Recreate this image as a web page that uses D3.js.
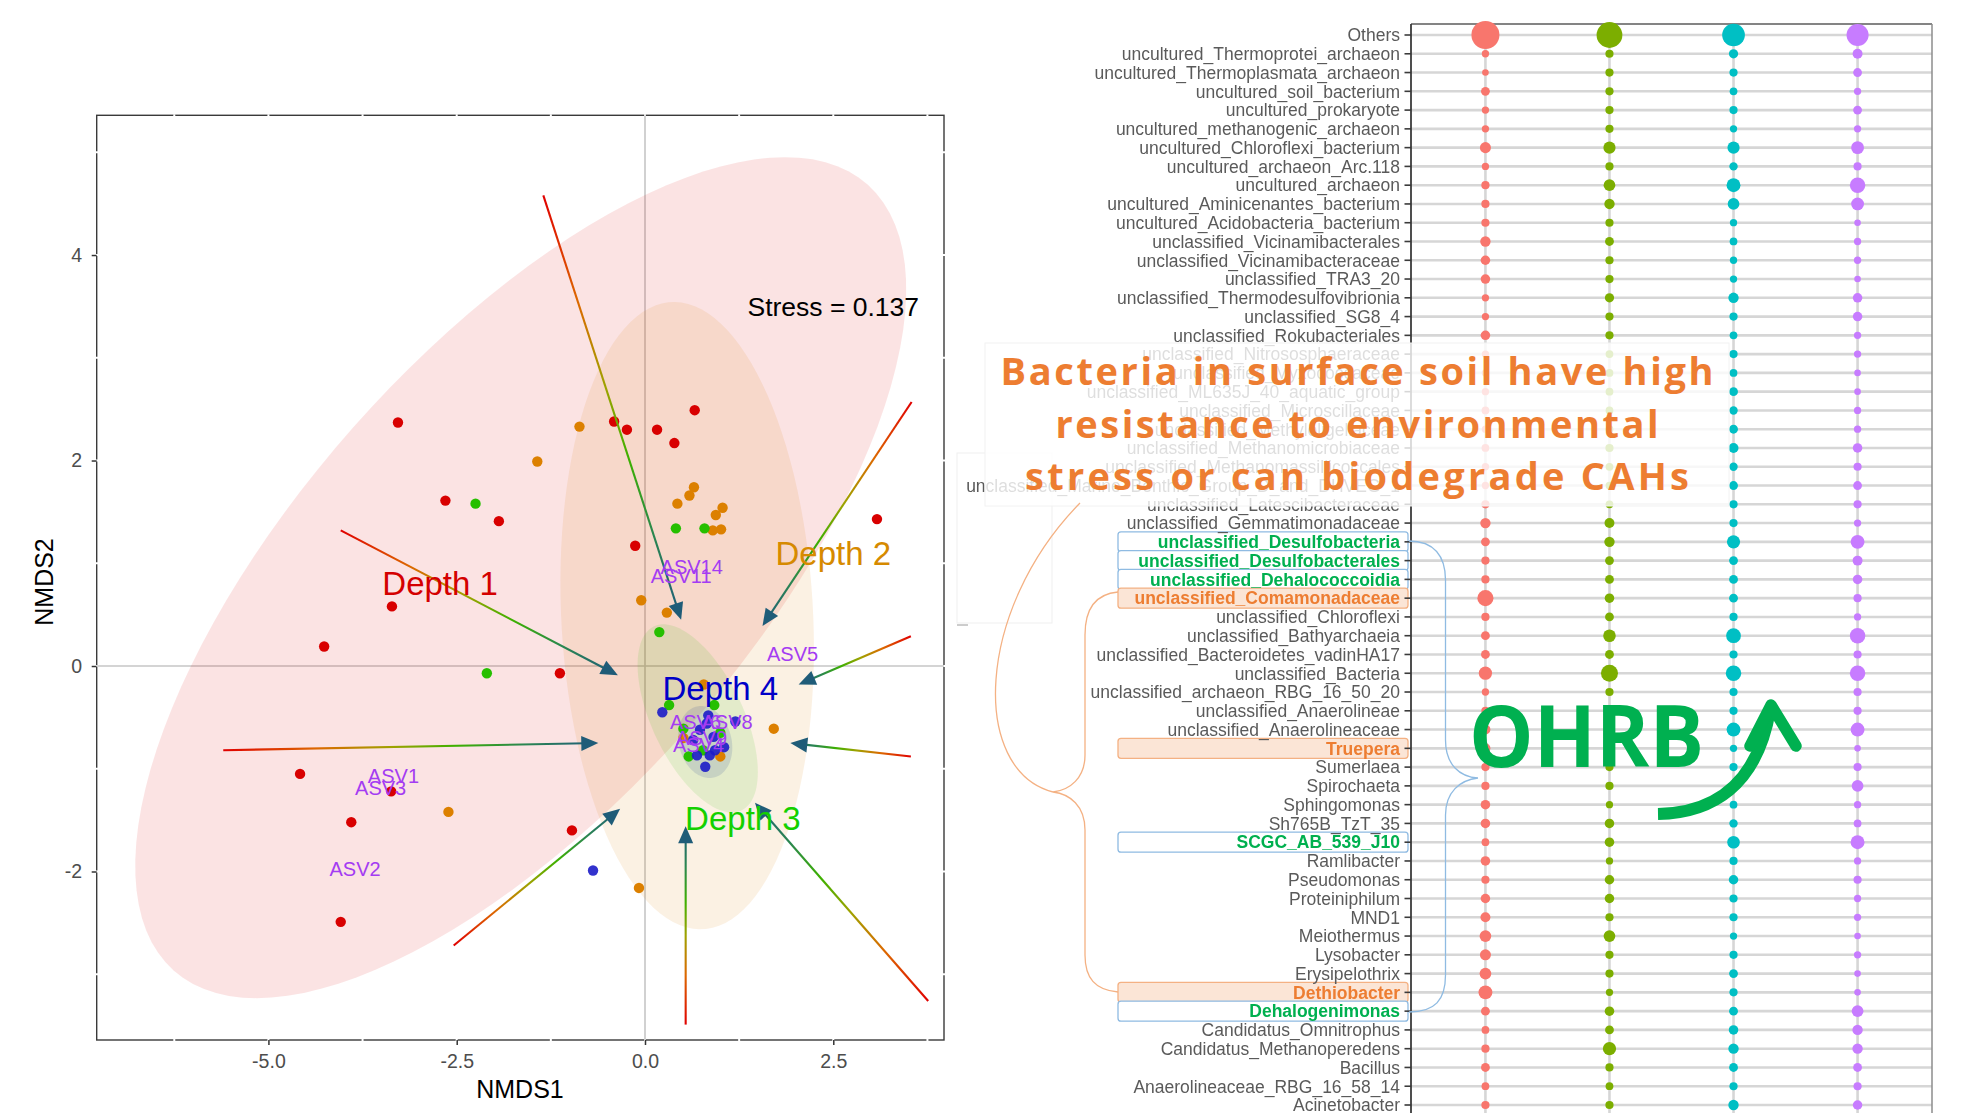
<!DOCTYPE html>
<html>
<head>
<meta charset="utf-8">
<script src="https://cdn.jsdelivr.net/npm/d3@7"></script>
<style>
  html, body { margin: 0; padding: 0; background: #fff; }
  svg { display: block; }
</style>
</head>
<body>
<svg id="fig" width="1974" height="1113"></svg>
<script>
// ---------------- NMDS ordination (left) ----------------
const depthGroups = ["Depth 1", "Depth 2", "Depth 3", "Depth 4"];
const depthPointColors = ["#d80000", "#dc8000", "#26bf00", "#1c1cc8"];
const depthLabelColors = ["#d40000", "#d68a00", "#14d000", "#0000c8"];

// sample scores (NMDS1, NMDS2) and the depth each sample belongs to (index into depthGroups)
const sampleNMDS1 = [
  -3.28, -2.65, -1.94, -0.41, -0.24, 0.16, 0.66, 0.39, 3.08, -0.13, -1.13, -0.97, -3.36, -4.26, -4.58, -3.37, -3.90, -4.04,
  -0.87, -1.43, 0.65, 0.59, 0.43, 1.03, 0.94, 0.90, 1.01, -0.05, 0.29, 0.78, 1.71, -0.08, -2.61, 0.51, 1.00,
  -2.25, 0.41, 0.79, 0.19, -2.10, 0.32, 0.92, 0.51, 1.00, 0.58, 0.77,
  0.23, 1.20, 0.69, 0.86, 0.80, 1.05, 0.84, 0.73, 0.91, 0.64, 0.82, 0.93, -0.69
];
const sampleNMDS2 = [
  2.37, 1.61, 1.41, 2.38, 2.30, 2.30, 2.49, 2.17, 1.43, 1.17, -0.07, -1.60, 0.58, 0.19, -1.05, -1.22, -1.52, -2.49,
  2.33, 1.99, 1.74, 1.66, 1.58, 1.54, 1.47, 1.32, 1.33, 0.64, 0.52, -0.18, -0.61, -2.16, -1.42, -0.70, -0.88,
  1.58, 1.34, 1.34, 0.33, -0.07, -0.38, -0.38, -0.61, -0.65, -0.88, -0.82,
  -0.45, -0.54, -0.87, -0.87, -0.98, -0.79, -0.48, -0.62, -0.69, -0.72, -0.56, -0.82, -1.99
];
const sampleDepth = [
  0, 0, 0, 0, 0, 0, 0, 0, 0, 0, 0, 0, 0, 0, 0, 0, 0, 0,
  1, 1, 1, 1, 1, 1, 1, 1, 1, 1, 1, 1, 1, 1, 1, 1, 1,
  2, 2, 2, 2, 2, 2, 2, 2, 2, 2, 2,
  3, 3, 3, 3, 3, 3, 3, 3, 3, 3, 3, 3, 3
];

// confidence ellipses per depth: centre, semi-axes and rotation (degrees), in NMDS units
const ellipseCx = [-1.65, 0.56, 0.70, 0.80];
const ellipseCy = [0.86, 0.49, -0.51, -0.74];
const ellipseA = [6.05, 3.06, 1.08, 0.382];
const ellipseB = [2.52, 1.67, 0.557, 0.325];
const ellipseAngle = [35.9, 94.7, 128.2, 139.5];
const ellipseFill = ["#d80000", "#dc8000", "#26bf00", "#3a4f9a"];
const ellipseOpacity = [0.11, 0.11, 0.11, 0.16];

// depth labels (centre x, baseline y) in NMDS units
const depthLabelX = [-2.72, 2.50, 1.30, 1.00];
const depthLabelY = [0.69, 0.98, -1.60, -0.33];

// species (ASV) labels
const asvNames = ["ASV14", "ASV11", "ASV5", "ASV1", "ASV3", "ASV2", "ASV6", "ASV8", "ASV9", "ASV4"];
const asvX = [0.62, 0.48, 1.96, -3.34, -3.51, -3.85, 0.67, 1.09, 0.75, 0.71];
const asvY = [0.90, 0.81, 0.05, -1.14, -1.26, -2.04, -0.61, -0.61, -0.77, -0.84];

// environmental gradient arrows (tail -> head) in NMDS units
const arrowX0 = [-1.35, -4.04, -5.60, -2.54, 0.54, 3.76, 3.53, 3.53, 3.54];
const arrowY0 = [4.58, 1.32, -0.82, -2.72, -3.49, -3.26, -0.88, 0.29, 2.57];
const arrowX1 = [0.48, -0.36, -0.62, -0.33, 0.54, 1.46, 1.93, 2.04, 1.56];
const arrowY1 = [0.45, -0.09, -0.75, -1.39, -1.56, -1.33, -0.75, -0.18, 0.39];

const stressText = "Stress = 0.137";
const stressX = 2.50, stressY = 3.41;

const xMajor = [-5, -2.5, 0, 2.5];
const yMajor = [-2, 0, 2, 4];
const xGridAll = [-6.25, -5, -3.75, -2.5, -1.25, 0, 1.25, 2.5, 3.75];
const yGridAll = [-3, -2, -1, 0, 1, 2, 3, 4, 5];

// ---------------- genus dot plot (right) ----------------
const genusNames = [
  "Others",
  "uncultured_Thermoprotei_archaeon",
  "uncultured_Thermoplasmata_archaeon",
  "uncultured_soil_bacterium",
  "uncultured_prokaryote",
  "uncultured_methanogenic_archaeon",
  "uncultured_Chloroflexi_bacterium",
  "uncultured_archaeon_Arc.118",
  "uncultured_archaeon",
  "uncultured_Aminicenantes_bacterium",
  "uncultured_Acidobacteria_bacterium",
  "unclassified_Vicinamibacterales",
  "unclassified_Vicinamibacteraceae",
  "unclassified_TRA3_20",
  "unclassified_Thermodesulfovibrionia",
  "unclassified_SG8_4",
  "unclassified_Rokubacteriales",
  "unclassified_Nitrososphaeraceae",
  "unclassified_Myxococcaceae",
  "unclassified_ML635J_40_aquatic_group",
  "unclassified_Microscillaceae",
  "unclassified_Methyloligellaceae",
  "unclassified_Methanomicrobiaceae",
  "unclassified_Methanomassiliicoccales",
  "unclassified_Marine_Benthic_Group_D_and_DHVEG_1",
  "unclassified_Latescibacteraceae",
  "unclassified_Gemmatimonadaceae",
  "unclassified_Desulfobacteria",
  "unclassified_Desulfobacterales",
  "unclassified_Dehalococcoidia",
  "unclassified_Comamonadaceae",
  "unclassified_Chloroflexi",
  "unclassified_Bathyarchaeia",
  "unclassified_Bacteroidetes_vadinHA17",
  "unclassified_Bacteria",
  "unclassified_archaeon_RBG_16_50_20",
  "unclassified_Anaerolineae",
  "unclassified_Anaerolineaceae",
  "Truepera",
  "Sumerlaea",
  "Spirochaeta",
  "Sphingomonas",
  "Sh765B_TzT_35",
  "SCGC_AB_539_J10",
  "Ramlibacter",
  "Pseudomonas",
  "Proteiniphilum",
  "MND1",
  "Meiothermus",
  "Lysobacter",
  "Erysipelothrix",
  "Dethiobacter",
  "Dehalogenimonas",
  "Candidatus_Omnitrophus",
  "Candidatus_Methanoperedens",
  "Bacillus",
  "Anaerolineaceae_RBG_16_58_14",
  "Acinetobacter"
];
const dotColumns = ["Depth 1", "Depth 2", "Depth 3", "Depth 4"];
const dotColors = ["#F8766D", "#7CAE00", "#00BFC4", "#C77CFF"];

// relative abundance (%) of each genus at each depth
const abundDepth1 = [30, 0.57, 0.36, 1.22, 0.57, 0.57, 2.59, 0.57, 0.91, 0.91,
  0.91, 2.12, 1.58, 1.58, 0.57, 0.57, 1.58, 0.57, 0.57, 0.57,
  0.73, 0.57, 0.73, 0.57, 0.57, 0.91, 2.12, 1.22, 0.91, 0.91,
  7.64, 0.91, 1.22, 1.22, 4.45, 0.57, 0.91, 1.84, 1.84, 0.91,
  0.91, 1.58, 1.58, 0.73, 1.58, 0.91, 1.58, 1.84, 3.09, 2.59,
  3.09, 5.11, 1.22, 0.73, 0.91, 1.22, 0.73, 0.91];
const abundDepth2 = [24.75, 0.91, 0.91, 0.91, 0.91, 0.91, 3.46, 0.91, 3.09, 2.12,
  0.91, 1.22, 0.91, 0.91, 1.45, 0.91, 0.91, 0.73, 0.73, 0.73,
  0.73, 0.73, 0.91, 0.73, 0.73, 0.73, 1.84, 2.12, 1.22, 1.22,
  1.58, 1.22, 3.84, 1.22, 8.79, 0.91, 0.91, 1.22, 1.22, 0.91,
  0.91, 0.57, 1.58, 1.58, 0.57, 1.58, 1.58, 0.91, 3.09, 0.91,
  0.91, 0.57, 1.58, 1.22, 4.45, 0.91, 0.73, 0.91];
const abundDepth3 = [18.24, 1.45, 0.91, 0.73, 0.91, 0.57, 3.46, 1.01, 5.11, 3.09,
  0.57, 0.73, 0.57, 0.57, 2.12, 0.91, 0.73, 0.91, 0.73, 1.22,
  1.01, 1.22, 1.84, 1.01, 1.22, 0.91, 0.91, 4.45, 1.22, 1.22,
  1.22, 0.91, 6.06, 0.91, 6.83, 0.91, 0.91, 5.11, 0.57, 0.91,
  1.22, 0.73, 1.01, 3.84, 0.91, 1.58, 0.91, 0.91, 0.57, 0.91,
  1.22, 0.91, 1.22, 1.58, 2.12, 1.22, 0.91, 2.12];
const abundDepth4 = [16.98, 1.84, 1.22, 0.57, 1.22, 0.57, 4.04, 0.91, 6.83, 4.04,
  0.36, 0.57, 0.57, 0.36, 1.58, 1.58, 0.57, 0.57, 0.36, 0.36,
  0.57, 0.57, 1.58, 0.91, 1.22, 0.91, 0.57, 5.11, 1.84, 1.58,
  0.91, 0.57, 6.83, 0.91, 6.83, 0.91, 0.91, 5.11, 0.36, 0.91,
  3.09, 0.57, 0.73, 5.11, 0.57, 0.91, 0.57, 0.57, 0.36, 0.57,
  0.36, 0.36, 3.09, 2.12, 2.12, 1.22, 0.91, 1.58];
const abundance = [abundDepth1, abundDepth2, abundDepth3, abundDepth4];

// highlighted genera
const ohrbGenera = ["unclassified_Desulfobacteria", "unclassified_Desulfobacterales",
  "unclassified_Dehalococcoidia", "SCGC_AB_539_J10", "Dehalogenimonas"];
const resistantGenera = ["unclassified_Comamonadaceae", "Truepera", "Dethiobacter"];

const noteLines = ["Bacteria in surface soil have high", "resistance to environmental", "stress or can biodegrade CAHs"];
const ohrbText = "OHRB";

// =====================================================================
const svg = d3.select("#fig");
const defs = svg.append("defs");
const sans = "'Liberation Sans', Arial, sans-serif";

// ---------- left panel ----------
const xL = d3.scaleLinear().domain([-7.28, 3.97]).range([96.7, 944]);
const yL = d3.scaleLinear().domain([-3.64, 5.36]).range([1040, 115.3]);
const [pL, pR] = xL.range();
const [pB, pT] = yL.range();

const gL = svg.append("g");

gL.append("rect")
  .attr("x", pL).attr("y", pT).attr("width", pR - pL).attr("height", pB - pT)
  .attr("fill", "#fff").attr("stroke", "#3a3a3a").attr("stroke-width", 1.4);

// white panel grid (shows only where it crosses the frame)
gL.selectAll("line.gx").data(xGridAll).join("line")
  .attr("x1", d => xL(d)).attr("x2", d => xL(d))
  .attr("y1", pT - 1).attr("y2", pB + 1)
  .attr("stroke", "#fff").attr("stroke-width", 2);
gL.selectAll("line.gy").data(yGridAll).join("line")
  .attr("y1", d => yL(d)).attr("y2", d => yL(d))
  .attr("x1", pL - 1).attr("x2", pR + 1)
  .attr("stroke", "#fff").attr("stroke-width", 2);

// axes
const axB = gL.append("g").attr("transform", `translate(0,${pB})`)
  .call(d3.axisBottom(xL).tickValues(xMajor).tickFormat(d => d.toFixed(1)).tickSize(5).tickPadding(9));
const axLft = gL.append("g").attr("transform", `translate(${pL},0)`)
  .call(d3.axisLeft(yL).tickValues(yMajor).tickFormat(d => String(d)).tickSize(5).tickPadding(9.5));
[axB, axLft].forEach(a => {
  a.select(".domain").remove();
  a.selectAll(".tick line").attr("stroke", "#333").attr("stroke-width", 1.5);
  a.selectAll(".tick text").attr("fill", "#4d4d4d").style("font-family", sans).style("font-size", "19.5px");
});

gL.append("text").attr("x", 520).attr("y", 1098).attr("text-anchor", "middle")
  .style("font-family", sans).style("font-size", "25px").attr("fill", "#000").text("NMDS1");
gL.append("text").attr("transform", "translate(53,582) rotate(-90)").attr("text-anchor", "middle")
  .style("font-family", sans).style("font-size", "25px").attr("fill", "#000").text("NMDS2");

// zero reference lines
gL.append("line").attr("x1", xL(0)).attr("x2", xL(0)).attr("y1", pT).attr("y2", pB)
  .attr("stroke", "#c6c6c6").attr("stroke-width", 1.6);
gL.append("line").attr("y1", yL(0)).attr("y2", yL(0)).attr("x1", pL).attr("x2", pR)
  .attr("stroke", "#c6c6c6").attr("stroke-width", 1.6);

// ellipses
function ellipsePoints(i) {
  const th = ellipseAngle[i] * Math.PI / 180, c = Math.cos(th), s = Math.sin(th);
  return d3.range(0, 360, 3).map(deg => {
    const t = deg * Math.PI / 180;
    const ex = ellipseA[i] * Math.cos(t), ey = ellipseB[i] * Math.sin(t);
    return [ellipseCx[i] + ex * c - ey * s, ellipseCy[i] + ex * s + ey * c];
  });
}
const ellLine = d3.line().x(d => xL(d[0])).y(d => yL(d[1])).curve(d3.curveLinearClosed);
gL.selectAll("path.ell").data(depthGroups).join("path")
  .attr("d", (d, i) => ellLine(ellipsePoints(i)))
  .attr("fill", (d, i) => ellipseFill[i])
  .attr("fill-opacity", (d, i) => ellipseOpacity[i])
  .attr("stroke", "none");

// sample points
gL.selectAll("circle.pt").data(sampleNMDS1).join("circle")
  .attr("cx", d => xL(d))
  .attr("cy", (d, i) => yL(sampleNMDS2[i]))
  .attr("r", 5.2)
  .attr("fill", (d, i) => depthPointColors[sampleDepth[i]])
  .attr("fill-opacity", (d, i) => sampleDepth[i] === 3 ? 0.9 : 1);

// gradient arrows
const arrows = arrowX0.map((d, i) => {
  const x0 = xL(d), y0 = yL(arrowY0[i]), x1 = xL(arrowX1[i]), y1 = yL(arrowY1[i]);
  const len = Math.hypot(x1 - x0, y1 - y0);
  const ux = (x1 - x0) / len, uy = (y1 - y0) / len;
  return { i, x0, y0, x1, y1, ux, uy };
});
const gradStops = [[0, "#e00000"], [0.25, "#dc6800"], [0.45, "#9fa200"], [0.62, "#3db000"], [0.8, "#2a8650"], [1, "#1f5b7c"]];
arrows.forEach(a => {
  const gr = defs.append("linearGradient").attr("id", "arrowGrad" + a.i)
    .attr("gradientUnits", "userSpaceOnUse")
    .attr("x1", a.x0).attr("y1", a.y0).attr("x2", a.x1).attr("y2", a.y1);
  gradStops.forEach(s => gr.append("stop").attr("offset", s[0]).attr("stop-color", s[1]));
});
const gArr = gL.append("g");
gArr.selectAll("line").data(arrows).join("line")
  .attr("x1", a => a.x0).attr("y1", a => a.y0)
  .attr("x2", a => a.x1 - a.ux * 12).attr("y2", a => a.y1 - a.uy * 12)
  .attr("stroke", a => `url(#arrowGrad${a.i})`).attr("stroke-width", 2.1);
gArr.selectAll("path").data(arrows).join("path")
  .attr("d", a => {
    const bx = a.x1 - a.ux * 17, by = a.y1 - a.uy * 17;
    const nx = -a.uy, ny = a.ux;
    return `M${a.x1},${a.y1}L${bx + nx * 7.5},${by + ny * 7.5}L${bx - nx * 7.5},${by - ny * 7.5}Z`;
  })
  .attr("fill", "#1f5c78");

// labels
gL.selectAll("text.asv").data(asvNames).join("text")
  .attr("x", (d, i) => xL(asvX[i])).attr("y", (d, i) => yL(asvY[i]))
  .attr("text-anchor", "middle").attr("fill", "#a43cf2")
  .style("font-family", sans).style("font-size", "20px").text(d => d);
gL.selectAll("text.depth").data(depthGroups).join("text")
  .attr("x", (d, i) => xL(depthLabelX[i])).attr("y", (d, i) => yL(depthLabelY[i]))
  .attr("text-anchor", "middle").attr("fill", (d, i) => depthLabelColors[i])
  .style("font-family", sans).style("font-size", "33px").text(d => d);
gL.append("text").attr("x", xL(stressX)).attr("y", yL(stressY)).attr("text-anchor", "middle")
  .style("font-family", sans).style("font-size", "26.5px").attr("fill", "#000").text(stressText);

// ---------- right panel ----------
const blur = defs.append("filter").attr("id", "soft").attr("x", "-5%").attr("y", "-5%").attr("width", "110%").attr("height", "110%");
blur.append("feGaussianBlur").attr("stdDeviation", 0.5);

const xR = d3.scalePoint().domain(dotColumns).range([1411, 1932]).padding(0.6);
const yR = d3.scalePoint().domain(genusNames).range([35, 1105]);
const rR = d3.scaleSqrt().domain([0, 30]).range([2, 14]);
const rTop = 24, rBottom = 1125;

const gR = svg.append("g").attr("filter", "url(#soft)");

gR.selectAll("line.hg").data(genusNames).join("line")
  .attr("x1", 1411).attr("x2", 1932).attr("y1", d => yR(d)).attr("y2", d => yR(d))
  .attr("stroke", "#d6d6d6").attr("stroke-width", 2.6);
gR.selectAll("line.vg").data(dotColumns).join("line")
  .attr("x1", d => xR(d)).attr("x2", d => xR(d)).attr("y1", rTop).attr("y2", rBottom)
  .attr("stroke", "#d6d6d6").attr("stroke-width", 2.6);
gR.append("line").attr("x1", 1411).attr("x2", 1932).attr("y1", rTop).attr("y2", rTop)
  .attr("stroke", "#5c5c5c").attr("stroke-width", 1.5);
gR.append("line").attr("x1", 1932).attr("x2", 1932).attr("y1", rTop).attr("y2", rBottom)
  .attr("stroke", "#8c8c8c").attr("stroke-width", 1.5);

// dots
dotColumns.forEach((col, c) => {
  gR.append("g").selectAll("circle").data(genusNames).join("circle")
    .attr("cx", xR(col)).attr("cy", d => yR(d))
    .attr("r", (d, i) => rR(abundance[c][i]))
    .attr("fill", dotColors[c]);
});

// label boxes for highlighted genera
const boxed = genusNames.filter(g => ohrbGenera.includes(g) || resistantGenera.includes(g));
gR.selectAll("rect.box").data(boxed).join("rect")
  .attr("x", 1118).attr("y", d => yR(d) - 10).attr("width", 290).attr("height", 20).attr("rx", 3)
  .attr("fill", d => ohrbGenera.includes(d) ? "#ffffff" : "#fbe5d6")
  .attr("stroke", d => ohrbGenera.includes(d) ? "#8fbbe2" : "#f4b183")
  .attr("stroke-width", 1.3);

// axis labels and ticks
gR.selectAll("text.lab").data(genusNames).join("text")
  .attr("x", 1400).attr("y", d => yR(d)).attr("dy", "0.36em").attr("text-anchor", "end")
  .style("font-family", sans)
  .style("font-size", "17.5px")
  .style("font-weight", d => (ohrbGenera.includes(d) || resistantGenera.includes(d)) ? "bold" : "normal")
  .attr("fill", d => ohrbGenera.includes(d) ? "#00b050" : resistantGenera.includes(d) ? "#ed7d31" : "#5a5a5a")
  .text(d => d);
gR.selectAll("line.tk").data(genusNames).join("line")
  .attr("x1", 1404.5).attr("x2", 1411).attr("y1", d => yR(d)).attr("y2", d => yR(d))
  .attr("stroke", "#3a3a3a").attr("stroke-width", 1.6);
gR.append("line").attr("x1", 1411).attr("x2", 1411).attr("y1", rTop).attr("y2", rBottom)
  .attr("stroke", "#3a3a3a").attr("stroke-width", 1.8);

// ---------- annotations over the dot plot ----------
const gA = svg.append("g");

gA.append("rect").attr("x", 957).attr("y", 453).attr("width", 95).attr("height", 170)
  .attr("fill", "none").attr("stroke", "#efefef").attr("stroke-width", 1);
gA.append("line").attr("x1", 957).attr("x2", 968).attr("y1", 625).attr("y2", 625)
  .attr("stroke", "#9a9a9a").attr("stroke-width", 1);

// translucent note box
gA.append("rect").attr("x", 985).attr("y", 343).attr("width", 744).attr("height", 163)
  .attr("fill", "#fff").attr("fill-opacity", 0.8).attr("stroke", "#f2f2f2").attr("stroke-width", 1);

// braces
gA.append("path")
  .attr("d", "M1118,592 C1095,594 1085,610 1085,635 L1085,755 C1085,778 1070,790 1053,792 C1070,794 1085,806 1085,830 L1085,955 C1085,978 1095,990 1118,992")
  .attr("fill", "none").attr("stroke", "#f4b183").attr("stroke-width", 1.3);
gA.append("path")
  .attr("d", "M1080,503 C975,610 970,770 1053,792")
  .attr("fill", "none").attr("stroke", "#f4b183").attr("stroke-width", 1.3);
gA.append("path")
  .attr("d", "M1409,541 C1434,541 1445.5,556 1445.5,580 L1445.5,740 C1445.5,765 1460,777 1478,778 C1460,780 1445.5,792 1445.5,815 L1445.5,975 C1445.5,1000 1435,1012 1409,1012")
  .attr("fill", "none").attr("stroke", "#8fbbe2").attr("stroke-width", 1.3);

// note text
const noteBaselines = [385, 437.5, 489.5];
const noteWidths = [713, 603, 664];
gA.selectAll("text.note").data(noteLines).join("text")
  .attr("x", (d, i) => 1357 - noteWidths[i] / 2).attr("y", (d, i) => noteBaselines[i])
  .attr("textLength", (d, i) => noteWidths[i]).attr("lengthAdjust", "spacing")
  .style("font-family", "'Open Sans', 'Noto Sans', sans-serif").style("font-weight", "bold")
  .style("font-size", "38px").attr("fill", "#ed7d31").text(d => d);

// OHRB with upward arrow
gA.append("text").attr("x", 1469).attr("y", 767)
  .attr("textLength", 235).attr("lengthAdjust", "spacingAndGlyphs")
  .style("font-family", "'Open Sans', 'Noto Sans', sans-serif").style("font-weight", "bold")
  .style("font-size", "86px").attr("fill", "#00b050").text(ohrbText);
gA.append("path").attr("d", "M1658,814 C1712,813 1757,786 1770,710")
  .attr("fill", "none").attr("stroke", "#00b050").attr("stroke-width", 12);
gA.append("polyline").attr("points", "1750,746 1771,705 1796,746")
  .attr("fill", "none").attr("stroke", "#00b050").attr("stroke-width", 11.5)
  .attr("stroke-linecap", "round").attr("stroke-linejoin", "round");
</script>
</body>
</html>
